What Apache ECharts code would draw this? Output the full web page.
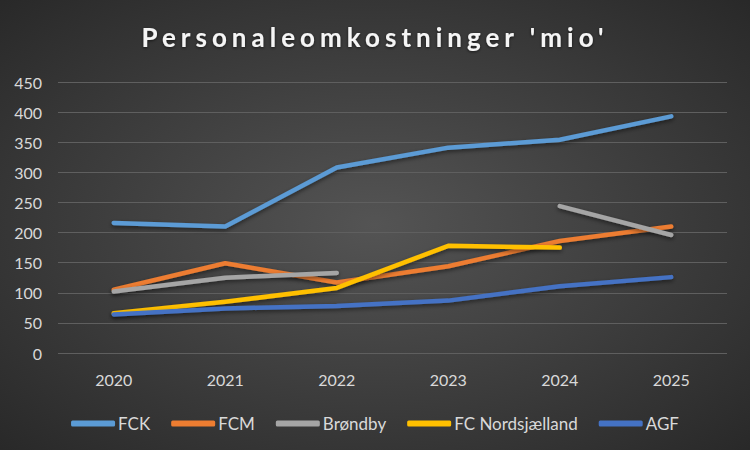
<!DOCTYPE html>
<html><head><meta charset="utf-8">
<script src="https://cdn.jsdelivr.net/npm/echarts@6/dist/echarts.min.js"></script>
<style>html,body{margin:0;padding:0;background:#333}#c{width:750px;height:450px}</style>
</head><body><div id="c"></div>
<script>
const categories = ['2020','2021','2022','2023','2024','2025'];
const seriesNames = ['FCK','FCM','Brøndby','FC Nordsjælland','AGF'];
const fck = [216, 210, 308, 341, 354, 393];
const fcm = [105, 149, 117, 144, 186, 210];
const brondby = [102, 125, 133, null, 244, 196];
const fcn = [66, 85, 108, 178, 175, null];
const agf = [64, 74, 78, 87, 111, 126];
const colors = ['#5B9BD5','#ED7D31','#A5A5A5','#FFC000','#4472C4'];
const values = [fck, fcm, brondby, fcn, agf];
const titleText = "Personaleomkostninger 'mio'";

const chart = echarts.init(document.getElementById('c'), null, {renderer:'svg'});
chart.setOption({
  backgroundColor: {type:'radial', x:0.5, y:0.5, r:0.75,
    colorStops:[{offset:0,color:'#545454'},{offset:1,color:'#262626'}]},
  animation:false,
  title:{text:titleText, left:'center', top:19,
    textStyle:{color:'#f5f5f5', fontSize:26, fontWeight:'bold', fontFamily:'Lato',
      textShadowColor:'rgba(0,0,0,0.6)', textShadowBlur:3, textShadowOffsetY:1}},
  grid:{left:58, right:23, top:82, bottom:97, containLabel:false},
  xAxis:{type:'category', data:categories, boundaryGap:true,
    axisLine:{show:false}, axisTick:{show:false},
    axisLabel:{color:'#d9d9d9', fontSize:16, fontFamily:'Lato', margin:18}},
  yAxis:{type:'value', min:0, max:450, interval:50,
    axisLine:{show:false}, axisTick:{show:false},
    splitLine:{lineStyle:{color:'#5f5f5f', width:1}},
    axisLabel:{color:'#d9d9d9', fontSize:16, fontFamily:'Lato', margin:16}},
  legend:{top:410, left:'center', itemWidth:44, itemHeight:6, itemGap:21, icon:'roundRect',
    textStyle:{color:'#d9d9d9', fontSize:17, fontFamily:'Lato', padding:[0,0,0,-2]},
    data:seriesNames},
  series: seriesNames.map((n,i)=>({
    name:n, type:'line', data:values[i], showSymbol:false, symbol:'none',
    connectNulls:false, color:colors[i],
    lineStyle:{width:4.5, color:colors[i], cap:'round', join:'round',
      shadowColor:'rgba(0,0,0,0.5)', shadowBlur:4, shadowOffsetY:2}
  }))
});
function spaceTitle(){
  document.querySelectorAll('#c svg text').forEach(t=>{
    if (t.textContent === titleText) {
      t.setAttribute('letter-spacing','5px');
      t.style.letterSpacing = '5px';
    }
  });
}
chart.on('rendered', spaceTitle);
spaceTitle();
setTimeout(spaceTitle, 50);
</script></body></html>
